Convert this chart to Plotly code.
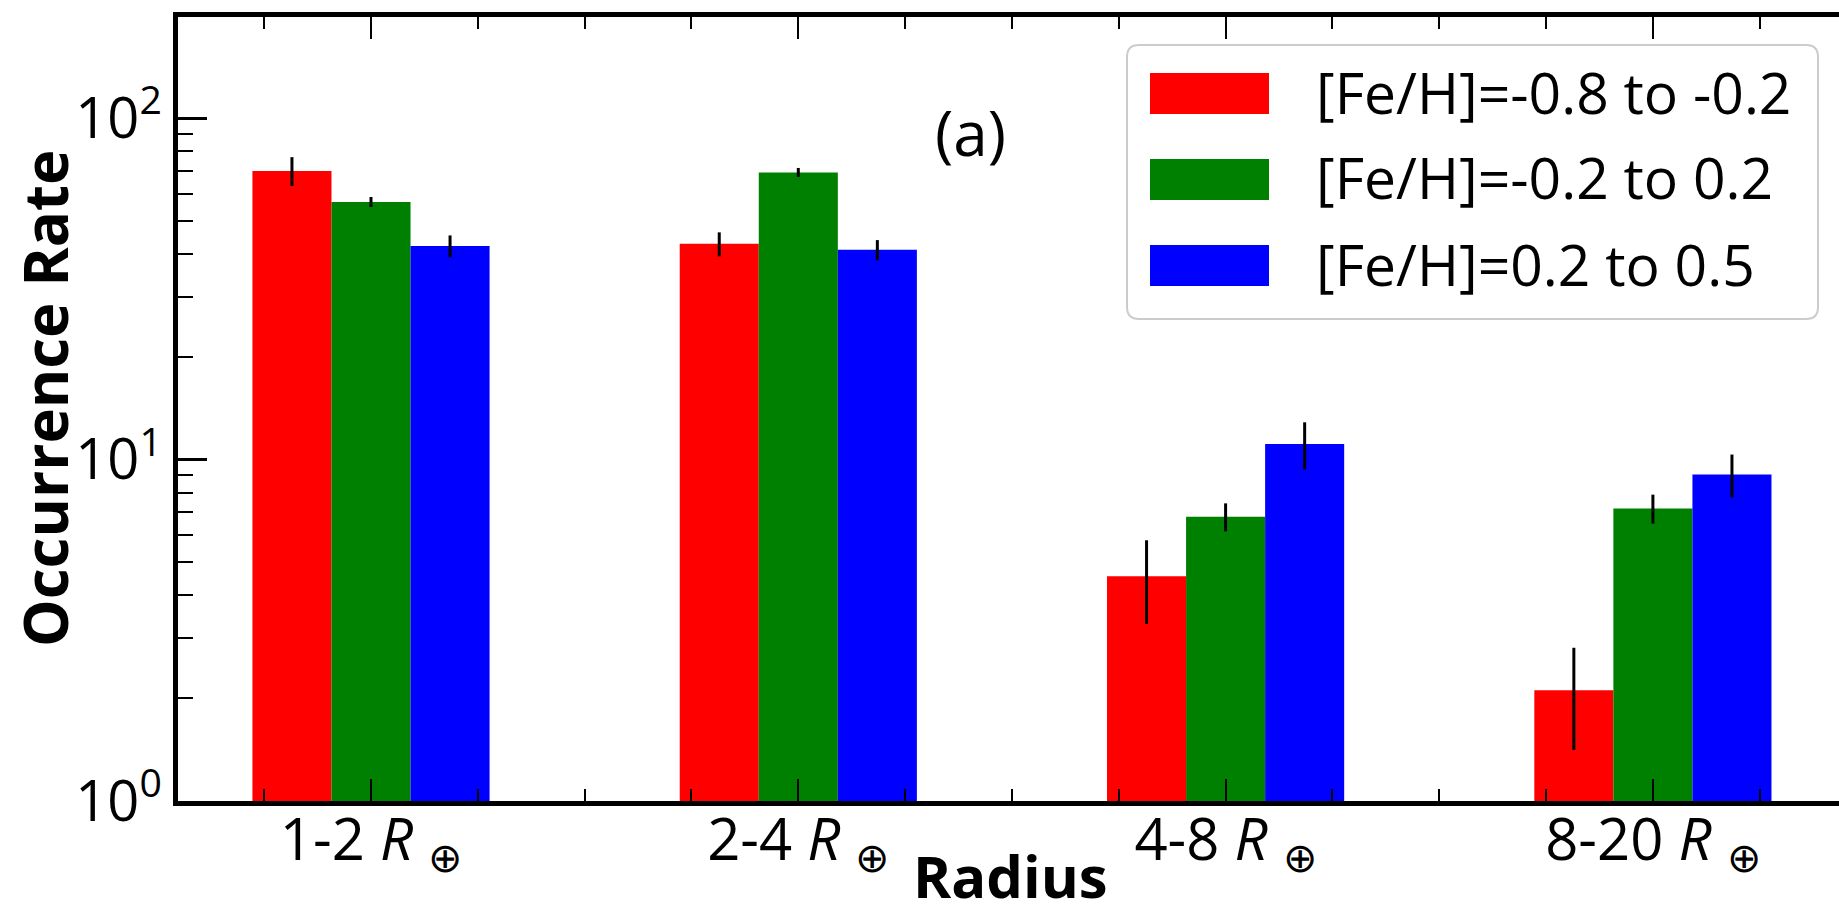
import plotly.graph_objects as go

# ---------------- data ----------------
categories = ["1-2", "2-4", "4-8", "8-20"]
series_names = ["[Fe/H]=-0.8 to -0.2", "[Fe/H]=-0.2 to 0.2", "[Fe/H]=0.2 to 0.5"]
rate_low = [70.0, 42.8, 4.55, 2.11]
err_low = [6.8, 3.45, 1.25, 0.70]
rate_mid = [56.8, 69.3, 6.8, 7.19]
err_mid = [1.9, 2.1, 0.64, 0.70]
rate_high = [42.2, 41.1, 11.1, 9.04]
err_high = [3.1, 2.8, 1.75, 1.3]
ytick_vals = [1, 10, 100]
ytick_text = ["10<sup>0</sup>", "10<sup>1</sup>", "10<sup>2</sup>"]
yminor_vals = [2, 3, 4, 5, 6, 7, 8, 9, 20, 30, 40, 50, 60, 70, 80, 90]

colors = ["#ff0000", "#008000", "#0000ff"]
FONT = "Open Sans"

# ---------------- geometry ----------------
W, H = 1839, 918
PX0, PX1, PY0, PY1 = 178, 1839, 17, 801   # plot area in pixels
X_CENTER0 = 371.0      # pixel of first group centre
X_UNIT = 427.3         # pixels per category
Y_TOP_PX_100 = 118.0   # pixel of 10^2
BAR_W = 0.185

x_range = [(PX0 - X_CENTER0) / X_UNIT, (PX1 - X_CENTER0) / X_UNIT]
y_top = 2.0 * (PY1 - PY0) / (PY1 - Y_TOP_PX_100)
y_range = [0, y_top]


def px(xp):
    return (xp - PX0) / (PX1 - PX0)


def py(yp):
    return (PY1 - yp) / (PY1 - PY0)


xpos = list(range(len(categories)))
xtick_text = [f"{c} <i>R</i> <sub>⊕</sub>" for c in categories]
xminor_vals = [i * 0.25 for i in range(-1, 15) if i % 4 != 0]

fig = go.Figure()
for name, vals, errs, col in zip(series_names,
                                 [rate_low, rate_mid, rate_high],
                                 [err_low, err_mid, err_high], colors):
    fig.add_trace(go.Bar(
        x=xpos, y=vals, name=name, width=BAR_W,
        marker=dict(color=col, line=dict(width=0)),
        error_y=dict(type="data", array=errs, visible=True,
                     color="black", thickness=3, width=0),
        showlegend=False,
    ))

fig.update_layout(
    width=W, height=H,
    margin=dict(l=PX0, r=W - PX1, t=PY0, b=H - PY1),
    paper_bgcolor="white", plot_bgcolor="white",
    barmode="group", bargap=1 - 3 * BAR_W, bargroupgap=0,
    font=dict(family=FONT, color="black", size=54),
    xaxis=dict(
        range=x_range, tickmode="array", tickvals=xpos, ticktext=xtick_text,
        ticks="inside", ticklen=22, tickwidth=2, tickcolor="black",
        showline=True, linewidth=5, linecolor="black", mirror="ticks",
        showgrid=False, zeroline=False, ticklabelstandoff=-16,
        tickfont=dict(size=58, family=FONT),
        minor=dict(tickmode="array", tickvals=xminor_vals, ticks="inside",
                   ticklen=12, tickwidth=1.5, tickcolor="black", showgrid=False),
    ),
    yaxis=dict(
        type="log", range=y_range, tickmode="array", tickvals=ytick_vals,
        ticktext=ytick_text, ticks="inside", ticklen=29, tickwidth=3,
        tickcolor="black", showline=True, linewidth=5, linecolor="black",
        showgrid=False, zeroline=False, tickfont=dict(size=56, family=FONT),
        minor=dict(tickmode="array", tickvals=yminor_vals, ticks="inside",
                   ticklen=15, tickwidth=2, tickcolor="black", showgrid=False),
    ),
    yaxis2=dict(
        type="log", range=y_range, overlaying="y", side="right", anchor="x",
        tickmode="array", tickvals=[10, 100], showticklabels=False,
        ticks="inside", ticklen=20, tickwidth=3, tickcolor="black",
        showline=False, showgrid=False, zeroline=False,
        minor=dict(tickmode="array", tickvals=yminor_vals, ticks="inside",
                   ticklen=6, tickwidth=2, tickcolor="black", showgrid=False),
    ),
)

# ---------------- manual legend ----------------
LEG_X0, LEG_X1, LEG_Y0, LEG_Y1 = 1127, 1818, 45, 319
rad = 12
x0, x1, y0, y1 = px(LEG_X0), px(LEG_X1), py(LEG_Y0), py(LEG_Y1)
rx = rad / (PX1 - PX0)
ry = rad / (PY1 - PY0)
path = (f"M{x0 + rx},{y0} L{x1 - rx},{y0} Q{x1},{y0} {x1},{y0 - ry} "
        f"L{x1},{y1 + ry} Q{x1},{y1} {x1 - rx},{y1} L{x0 + rx},{y1} "
        f"Q{x0},{y1} {x0},{y1 + ry} L{x0},{y0 - ry} Q{x0},{y0} {x0 + rx},{y0} Z")
fig.add_shape(type="path", path=path, xref="paper", yref="paper",
              fillcolor="white", line=dict(color="#cccccc", width=2), layer="above")

row_centres = [91.5, 177.5, 263.5]
for name, col, yc in zip(series_names, colors, row_centres):
    fig.add_shape(type="rect", xref="paper", yref="paper",
                  x0=px(1150), x1=px(1269), y0=py(yc + 2 - 20.5), y1=py(yc + 2 + 20.5),
                  fillcolor=col, line=dict(width=0), layer="above")
    fig.add_annotation(text=name, xref="paper", yref="paper",
                       x=px(1314), y=py(yc), xanchor="left", yanchor="middle",
                       showarrow=False, font=dict(size=57, family=FONT, color="black"))

# panel label
fig.add_annotation(text="(a)", xref="paper", yref="paper", x=px(970), y=py(132),
                   xanchor="center", yanchor="middle", showarrow=False,
                   font=dict(size=62, family=FONT, color="black"))

# axis titles
fig.add_annotation(text="<b>Occurrence Rate</b>", xref="paper", yref="paper",
                   x=px(45), y=py(398), xanchor="center", yanchor="middle",
                   textangle=-90, showarrow=False,
                   font=dict(size=60, family=FONT, color="black"))
fig.add_annotation(text="<b>Radius</b>", xref="paper", yref="paper",
                   x=px(1010), y=py(917), xanchor="center", yanchor="bottom",
                   showarrow=False, font=dict(size=58, family=FONT, color="black"))

fig.write_html("out.html")
